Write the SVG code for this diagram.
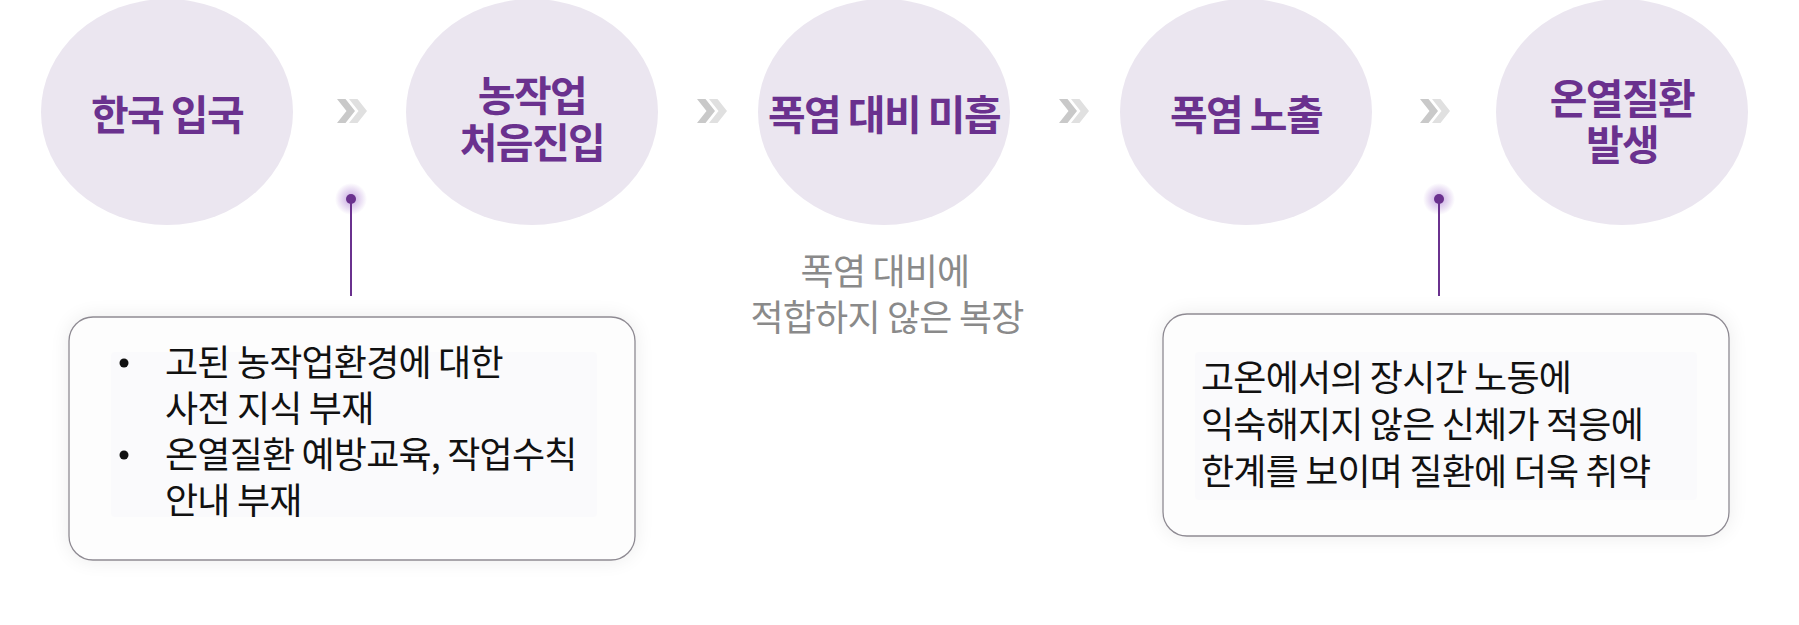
<svg xmlns="http://www.w3.org/2000/svg" width="1799" height="625" viewBox="0 0 1799 625">
<defs>
<style>
.node ellipse{fill:#ebe6f0;}
.title{font-family:"Noto Sans CJK KR","Noto Sans",sans-serif;font-weight:700;font-size:41px;fill:#6a318e;text-anchor:middle;letter-spacing:-1.6px;}
.body{font-family:"Noto Sans CJK KR","Noto Sans",sans-serif;font-weight:400;font-size:36px;fill:#111;letter-spacing:-0.8px;}
.note{font-family:"Noto Sans CJK KR","Noto Sans",sans-serif;font-weight:400;font-size:36px;fill:#8a8a8a;text-anchor:middle;letter-spacing:-0.8px;}
.box{fill:#fdfdfd;stroke:#8e8a92;stroke-width:1.3;}
.inner{fill:#fafafc;}
.chev1{fill:#c9c9c9;}
.chev2{fill:#e0e0e0;}
.stem{stroke:#6a318e;stroke-width:2;}
.dot{fill:#6a318e;}
</style>
<filter id="sh" x="-10%" y="-20%" width="120%" height="140%">
<feGaussianBlur in="SourceAlpha" stdDeviation="10"/>
<feComponentTransfer><feFuncA type="linear" slope="0.08"/></feComponentTransfer>
<feMerge><feMergeNode/><feMergeNode in="SourceGraphic"/></feMerge>
</filter>
<radialGradient id="glow">
<stop offset="0" stop-color="#8a4cc0" stop-opacity="0.5"/>
<stop offset="1" stop-color="#8a4cc0" stop-opacity="0"/>
</radialGradient>
<g id="chev">
<polygon class="chev1" points="0,-12 8.5,-12 18,0 8.5,12 0,12 9.5,0"/>
<polygon class="chev2" points="12,-12 20.5,-12 30,0 20.5,12 12,12 21.5,0"/>
</g>
</defs>
<rect width="1799" height="625" fill="#ffffff"/>

<g id="n1" class="node"><ellipse cx="167" cy="112" rx="126" ry="113"/><text class="title" x="167" y="130">한국 입국</text></g>
<g id="n2" class="node"><ellipse cx="532" cy="112" rx="126" ry="113"/><text class="title" x="532" y="111">농작업</text><text class="title" x="532" y="158">처음진입</text></g>
<g id="n3" class="node"><ellipse cx="884" cy="112" rx="126" ry="113"/><text class="title" x="884" y="130">폭염 대비 미흡</text></g>
<g id="n4" class="node"><ellipse cx="1246" cy="112" rx="126" ry="113"/><text class="title" x="1246" y="130">폭염 노출</text></g>
<g id="n5" class="node"><ellipse cx="1622" cy="112" rx="126" ry="113"/><text class="title" x="1622" y="114">온열질환</text><text class="title" x="1622" y="160">발생</text></g>

<g id="connectors">
<use href="#chev" x="337" y="111"/>
<use href="#chev" x="697" y="111"/>
<use href="#chev" x="1059" y="111"/>
<use href="#chev" x="1420" y="111"/>
<circle cx="351" cy="199" r="16" fill="url(#glow)"/>
<line class="stem" x1="351" y1="199" x2="351" y2="296"/>
<circle class="dot" cx="351" cy="199" r="5"/>
<circle cx="1439" cy="199" r="16" fill="url(#glow)"/>
<line class="stem" x1="1439" y1="199" x2="1439" y2="296"/>
<circle class="dot" cx="1439" cy="199" r="5"/>
</g>

<g id="box1">
<rect class="box" x="69" y="317" width="566" height="243" rx="24" filter="url(#sh)"/>
<rect class="inner" x="111" y="352" width="486" height="165" rx="4"/>
<circle cx="124" cy="363" r="4.5" fill="#111"/>
<circle cx="124" cy="455" r="4.5" fill="#111"/>
<text class="body" x="165" y="376">고된 농작업환경에 대한</text>
<text class="body" x="165" y="422">사전 지식 부재</text>
<text class="body" x="165" y="468">온열질환 예방교육, 작업수칙</text>
<text class="body" x="165" y="514">안내 부재</text>
</g>

<g id="note">
<text class="note" x="885" y="285">폭염 대비에</text>
<text class="note" x="887" y="331">적합하지 않은 복장</text>
</g>

<g id="box2">
<rect class="box" x="1163" y="314" width="566" height="222" rx="24" filter="url(#sh)"/>
<rect class="inner" x="1195" y="352" width="502" height="148" rx="4"/>
<text class="body" x="1201" y="391">고온에서의 장시간 노동에</text>
<text class="body" x="1201" y="438">익숙해지지 않은 신체가 적응에</text>
<text class="body" x="1201" y="485">한계를 보이며 질환에 더욱 취약</text>
</g>
</svg>
